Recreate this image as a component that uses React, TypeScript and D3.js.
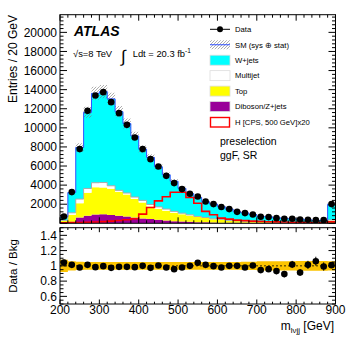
import React from "react";
import * as d3 from "d3";

// 20 GeV bins from 200 to 900 GeV (last bin holds the overflow)
const binLow = d3.range(200, 900, 20);

const dataCounts = [712, 3267, 7770, 11780, 13380, 13740, 12690, 11540, 10310, 8990, 7770, 6720, 5950, 4970, 4210, 3580, 3090, 2810, 2280, 2010, 1700, 1490, 1200, 1070, 920, 680, 650, 540, 470, 470, 400, 370, 330, 330, 2010];
const wjets = [370, 2125, 5400, 7980, 9360, 9525, 9100, 8240, 7275, 6395, 5370, 4930, 4205, 3585, 3150, 2595, 2200, 1980, 1640, 1550, 1335, 1180, 940, 865, 725, 555, 540, 460, 422, 370, 358, 295, 249, 277, 1640];
const multijet = [30, 200, 430, 450, 470, 520, 300, 150, 150, 200, 220, 210, 200, 170, 150, 100, 70, 70, 60, 50, 60, 40, 30, 25, 20, 15, 10, 10, 10, 7, 5, 5, 4, 4, 50];
const topBkg = [250, 750, 1490, 2410, 2850, 2800, 2770, 2510, 2300, 1950, 1670, 1320, 1150, 1030, 880, 780, 670, 530, 450, 335, 270, 210, 175, 150, 125, 110, 95, 80, 67, 60, 53, 45, 40, 36, 240];
const diboson = [30, 150, 620, 790, 930, 950, 860, 790, 720, 600, 510, 440, 370, 290, 220, 180, 150, 120, 100, 85, 70, 60, 55, 50, 45, 40, 35, 30, 28, 25, 22, 20, 18, 16, 60];
const signalX20 = [50, 70, 90, 110, 140, 180, 230, 300, 370, 480, 960, 1650, 2350, 2780, 3260, 3250, 2700, 2100, 1250, 900, 540, 440, 330, 280, 230, 200, 170, 150, 130, 110, 100, 90, 80, 70, 150];
const ratio = [1.044, 1.013, 0.979, 1.013, 0.983, 0.996, 0.974, 0.987, 0.987, 0.983, 1.0, 0.974, 1.004, 0.979, 0.957, 0.979, 1.0, 1.04, 1.013, 0.996, 0.979, 1.0, 1.0, 0.979, 1.004, 0.944, 0.957, 0.931, 0.892, 1.018, 0.913, 1.013, 1.061, 0.991, 1.009];
// relative syst+stat uncertainty on the SM prediction
const sysUnc = [0.08, 0.06, 0.055, 0.05, 0.05, 0.05, 0.05, 0.05, 0.05, 0.05, 0.05, 0.05, 0.05, 0.05, 0.05, 0.05, 0.05, 0.05, 0.05, 0.05, 0.05, 0.05, 0.05, 0.055, 0.055, 0.06, 0.06, 0.06, 0.06, 0.06, 0.065, 0.065, 0.065, 0.065, 0.06];

const xTicks = [200, 300, 400, 500, 600, 700, 800, 900];
const yTicks = [2000, 4000, 6000, 8000, 10000, 12000, 14000, 16000, 18000, 20000];
const rTicks = [0.6, 0.8, 1, 1.2, 1.4];

const legendItems = ["Data", "SM (sys \u2295 stat)", "W+jets", "Multijet", "Top", "Diboson/Z+jets", "H [CPS, 500 GeV]x20"];

const FONT = "'Liberation Sans', Arial, Helvetica, sans-serif";

export default function App() {
  const left = 60, right = 335.5;
  const mainTop = 14.7, mainBot = 223.3;
  const rTop = 227.7, rBot = 304;

  const x = d3.scaleLinear().domain([200, 900]).range([left, right]);
  const y = d3.scaleLinear().domain([0, 21850]).range([mainBot, mainTop]);
  const yr = d3.scaleLinear().domain([0.5, 1.5]).range([rBot, rTop]);

  const rows = binLow.map((b, i) => ({
    diboson: diboson[i], top: topBkg[i], multijet: multijet[i], wjets: wjets[i],
  }));
  const stack = d3.stack<any>().keys(["diboson", "top", "multijet", "wjets"]);
  const layers = stack(rows);
  const colors: Record<string, string> = {
    diboson: "#990099", top: "#ffff00", multijet: "#ffffff", wjets: "#00ffff",
  };

  const n = binLow.length;
  const edges = [...binLow, 900];
  const at = (arr: any[], i: number) => arr[Math.min(i, n - 1)];

  const area = d3.area<any>()
    .curve(d3.curveStepAfter)
    .x((d) => x(d.x)).y0((d) => d.y0).y1((d) => d.y1);

  const stepLine = d3.line<[number, number]>()
    .curve(d3.curveStepAfter)
    .x((d) => x(d[0])).y((d) => d[1]);

  const totals = rows.map((r) => r.diboson + r.top + r.multijet + r.wjets);
  const outline = (vals: number[], sy: (v: number) => number, base: number) => {
    const pts: [number, number][] = [[200, base]];
    edges.forEach((e, i) => pts.push([e, sy(at(vals, i))]));
    pts.push([900, base]);
    return stepLine(pts) as string;
  };

  const multijetTop = layers[2].map((d) => d[1]);

  const hatchArea = area(edges.map((e, i) => ({
    x: e,
    y0: y(at(totals, i) * (1 - at(sysUnc, i))),
    y1: y(at(totals, i) * (1 + at(sysUnc, i))),
  }))) as string;

  const bandArea = area(edges.map((e, i) => ({
    x: e, y0: yr(1 - at(sysUnc, i)), y1: yr(1 + at(sysUnc, i)),
  }))) as string;

  const centers = binLow.map((b) => b + 10);

  // ticks
  const xMinor = d3.range(200, 901, 20);
  const yMinor = d3.range(0, 21850, 400);
  const rMinor = d3.range(0.5, 1.501, 0.05);

  const tickLines: JSX.Element[] = [];
  xMinor.forEach((v, i) => {
    const major = v % 100 === 0;
    const px = x(v);
    const lm = major ? 6 : 3;
    const lr = major ? 4.5 : 2.3;
    tickLines.push(<line key={"xm" + i} x1={px} x2={px} y1={mainBot} y2={mainBot - lm} />);
    tickLines.push(<line key={"xt" + i} x1={px} x2={px} y1={mainTop} y2={mainTop + lm} />);
    tickLines.push(<line key={"xr" + i} x1={px} x2={px} y1={rBot} y2={rBot - lr} />);
    tickLines.push(<line key={"xrt" + i} x1={px} x2={px} y1={rTop} y2={rTop + lr} />);
  });
  yMinor.forEach((v, i) => {
    const major = v % 2000 === 0;
    const py = y(v);
    const l = major ? 7 : 3.5;
    tickLines.push(<line key={"yl" + i} x1={left} x2={left + l} y1={py} y2={py} />);
    tickLines.push(<line key={"yr" + i} x1={right} x2={right - l} y1={py} y2={py} />);
  });
  rMinor.forEach((v, i) => {
    const major = Math.abs(Math.round(v * 5) - v * 5) < 1e-6;
    const py = yr(v);
    const l = major ? 7 : 3.5;
    tickLines.push(<line key={"rl" + i} x1={left} x2={left + l} y1={py} y2={py} />);
    tickLines.push(<line key={"rr" + i} x1={right} x2={right - l} y1={py} y2={py} />);
  });

  const legX = 210, legTxt = 235, legY0 = 29.3, legDy = 15.45;

  return (
    <svg width={357} height={340} style={{ position: "absolute", left: 0, top: 0, background: "#fff" }} fontFamily={FONT}>
      <defs>
        <pattern id="hatch" width={3} height={3} patternUnits="userSpaceOnUse">
          <path d="M-0.75,0.75 L0.75,-0.75 M0,3 L3,0 M2.25,3.75 L3.75,2.25" stroke="#777" strokeWidth={0.6} />
        </pattern>
        <clipPath id="mainClip"><rect x={left} y={mainTop} width={right - left} height={mainBot - mainTop} /></clipPath>
        <clipPath id="ratioClip"><rect x={left} y={rTop} width={right - left} height={rBot - rTop} /></clipPath>
      </defs>

      {/* main panel */}
      <g clipPath="url(#mainClip)">
        {layers.map((layer) => (
          <path key={layer.key}
            d={area(edges.map((e, i) => ({ x: e, y0: y(at(layer, i)[0]), y1: y(at(layer, i)[1]) }))) as string}
            fill={colors[layer.key]} />
        ))}
        <path d={outline(multijetTop, y, y(0))} fill="none" stroke="#aaaaaa" strokeWidth={1} />
        <path d={hatchArea} fill="url(#hatch)" />
        <path d={outline(totals, y, y(0))} fill="none" stroke="#3050ff" strokeWidth={1} />
        <path d={outline(signalX20, y, y(0))} fill="none" stroke="#ff0000" strokeWidth={1.6} />
        {centers.map((c, i) => {
          const err = Math.sqrt(dataCounts[i]);
          return (
            <g key={"d" + i}>
              <line x1={x(c)} x2={x(c)} y1={y(dataCounts[i] - err)} y2={y(dataCounts[i] + err)} stroke="#000" strokeWidth={1} />
              <circle cx={x(c)} cy={y(dataCounts[i])} r={3.3} fill="#000" />
            </g>
          );
        })}
      </g>

      {/* ratio panel */}
      <g clipPath="url(#ratioClip)">
        <path d={bandArea} fill="#fcc400" />
        <line x1={left} x2={right} y1={yr(1)} y2={yr(1)} stroke="#000" strokeWidth={0.8} strokeDasharray="2,2" />
        {centers.map((c, i) => {
          const bkg = dataCounts[i] / ratio[i];
          const err = Math.sqrt(dataCounts[i]) / bkg;
          return (
            <g key={"r" + i}>
              <line x1={x(c)} x2={x(c)} y1={yr(ratio[i] - err)} y2={yr(ratio[i] + err)} stroke="#000" strokeWidth={1} />
              <circle cx={x(c)} cy={yr(ratio[i])} r={3.3} fill="#000" />
            </g>
          );
        })}
      </g>

      {/* frames and ticks */}
      <g stroke="#000" strokeWidth={1}>{tickLines}</g>
      <rect x={left} y={mainTop} width={right - left} height={mainBot - mainTop} fill="none" stroke="#000" strokeWidth={1} />
      <rect x={left} y={rTop} width={right - left} height={rBot - rTop} fill="none" stroke="#000" strokeWidth={1} />

      {/* tick labels */}
      <g fontSize={12} textAnchor="end" fill="#000">
        {yTicks.map((t) => (
          <text key={"yl" + t} x={left - 3} y={y(t) + 4.2}>{t}</text>
        ))}
        {rTicks.map((t) => (
          <text key={"rl" + t} x={left - 3} y={yr(t) + 4.2}>{t === 1 ? "1" : t.toFixed(1)}</text>
        ))}
      </g>
      <g fontSize={12} textAnchor="middle" fill="#000">
        {xTicks.map((t) => (
          <text key={"xl" + t} x={x(t)} y={314}>{t}</text>
        ))}
      </g>

      {/* axis titles */}
      <text transform="translate(17,15) rotate(-90)" textAnchor="end" fontSize={12}>Entries / 20 GeV</text>
      <text transform="translate(17,266) rotate(-90)" textAnchor="middle" fontSize={11.5}>Data / Bkg</text>
      <text x={334} y={330} textAnchor="end" fontSize={12}>
        m<tspan fontSize={8} dy={2.5}>l{"\u03bd"}jj</tspan><tspan dy={-2.5}> [GeV]</tspan>
      </text>

      {/* labels */}
      <text x={74} y={36} fontSize={14} fontWeight="bold" fontStyle="italic">ATLAS</text>
      <text x={73} y={57.3} fontSize={9.4}>{"\u221as=8 TeV"}</text>
      <text x={121} y={61.5} fontSize={17}>{"\u222b"}</text>
      <text x={132.7} y={57.3} fontSize={9.4}>
        Ldt = 20.3 fb<tspan fontSize={6.5} dy={-4}>-1</tspan>
      </text>
      <text x={220} y={144.5} fontSize={10.5}>preselection</text>
      <text x={220} y={159.3} fontSize={10.5}>ggF, SR</text>

      {/* legend */}
      <g fontSize={7.7}>
        {legendItems.map((lab, i) => {
          const cy = legY0 + i * legDy;
          let sym: JSX.Element;
          if (i === 0) {
            sym = (
              <g>
                <line x1={legX} x2={legX + 20} y1={cy} y2={cy} stroke="#000" strokeWidth={1} />
                <circle cx={legX + 10} cy={cy} r={3} fill="#000" />
              </g>
            );
          } else if (i === 1) {
            sym = (
              <g>
                <rect x={legX} y={cy - 4.5} width={20} height={9} fill="url(#hatch)" />
                <line x1={legX} x2={legX + 20} y1={cy} y2={cy} stroke="#3050ff" strokeWidth={1} />
              </g>
            );
          } else if (i === 6) {
            sym = <rect x={legX + 0.5} y={cy - 4.5} width={19} height={9.5} fill="#fff" stroke="#ff0000" strokeWidth={1.4} />;
          } else {
            const fills = ["", "", "#00ffff", "#ffffff", "#ffff00", "#990099"];
            sym = <rect x={legX} y={cy - 5} width={20} height={10} fill={fills[i]} stroke="#dddddd" strokeWidth={0.8} />;
          }
          return (
            <g key={"leg" + i}>
              {sym}
              <text x={legTxt} y={cy + 2.8}>{lab}</text>
            </g>
          );
        })}
      </g>
    </svg>
  );
}
